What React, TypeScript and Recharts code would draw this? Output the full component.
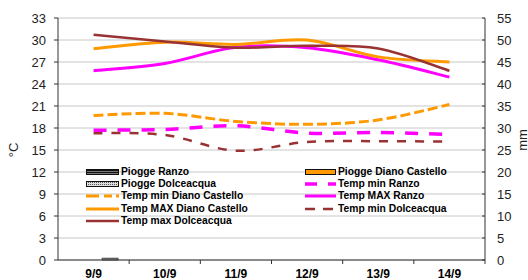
import React from 'react';
import { ComposedChart, Bar, Line, XAxis, YAxis, CartesianGrid, Legend, Label } from 'recharts';

const DAYS = ['9/9', '10/9', '11/9', '12/9', '13/9', '14/9'];
const PIOGGE_RANZO = [0, 0, 0, 0, 0, 0];
const PIOGGE_DIANO = [0, 0, 0, 0, 0, 0];
const PIOGGE_DOLCE = [0.4, 0, 0, 0, 0, 0];
const TMIN_RANZO = [17.7, 17.8, 18.3, 17.3, 17.4, 17.1];
const TMIN_DIANO = [19.7, 20.0, 18.9, 18.5, 19.1, 21.2];
const TMAX_RANZO = [25.8, 26.8, 29.0, 28.95, 27.3, 24.95];
const TMAX_DIANO = [28.8, 29.7, 29.4, 30.0, 27.7, 27.0];
const TMIN_DOLCE = [17.3, 17.05, 14.9, 16.1, 16.2, 16.15];
const TMAX_DOLCE = [30.7, 29.8, 28.95, 29.2, 28.85, 25.8];

const TEMP_TICKS = [0, 3, 6, 9, 12, 15, 18, 21, 24, 27, 30, 33];
const MM_TICKS = [0, 5, 10, 15, 20, 25, 30, 35, 40, 45, 50, 55];

const ORANGE = '#FF9900';
const MAGENTA = '#FF00FF';
const BROWN = '#993333';
const FONT = '"Liberation Sans", Arial, sans-serif';

const W = 528;
const H = 280;
const Y_LEFT_W = 58;
const Y_RIGHT_W = 43;
const BAND = (W - Y_LEFT_W - Y_RIGHT_W) / DAYS.length;

const data = DAYS.map((day, i) => ({
  day,
  pioggeRanzo: PIOGGE_RANZO[i],
  pioggeDiano: PIOGGE_DIANO[i],
  pioggeDolce: PIOGGE_DOLCE[i],
  tMinRanzo: TMIN_RANZO[i],
  tMinDiano: TMIN_DIANO[i],
  tMaxRanzo: TMAX_RANZO[i],
  tMaxDiano: TMAX_DIANO[i],
  tMinDolce: TMIN_DOLCE[i],
  tMaxDolce: TMAX_DOLCE[i],
}));

// legend entries, row by row (two columns)
const LEGEND = [
  { label: 'Piogge Ranzo', kind: 'stripes' },
  { label: 'Piogge Diano Castello', kind: 'orange' },
  { label: 'Piogge Dolceacqua', kind: 'dots' },
  { label: 'Temp min Ranzo', kind: 'line', color: MAGENTA, dash: '12 11', width: 3.5 },
  { label: 'Temp min Diano Castello', kind: 'line', color: ORANGE, dash: '13 5 8 4', width: 3 },
  { label: 'Temp MAX Ranzo', kind: 'line', color: MAGENTA, width: 3 },
  { label: 'Temp MAX Diano Castello', kind: 'line', color: ORANGE, width: 3 },
  { label: 'Temp min Dolceacqua', kind: 'line', color: BROWN, dash: '10 8', width: 2.5 },
  { label: 'Temp max Dolceacqua', kind: 'line', color: BROWN, width: 2.5 },
];

// smoothing like the spreadsheet one (catmull-rom style bezier)
const excelSmooth = (context: any) => {
  let pts: number[][] = [];
  return {
    areaStart() {},
    areaEnd() {},
    lineStart() {
      pts = [];
    },
    point(x: number, y: number) {
      pts.push([+x, +y]);
    },
    lineEnd() {
      if (!pts.length) return;
      context.moveTo(pts[0][0], pts[0][1]);
      for (let i = 0; i < pts.length - 1; i++) {
        const p0 = pts[Math.max(i - 1, 0)];
        const p1 = pts[i];
        const p2 = pts[i + 1];
        const p3 = pts[Math.min(i + 2, pts.length - 1)];
        context.bezierCurveTo(
          p1[0] + (p2[0] - p0[0]) / 6,
          p1[1] + (p2[1] - p0[1]) / 6,
          p2[0] - (p3[0] - p1[0]) / 6,
          p2[1] - (p3[1] - p1[1]) / 6,
          p2[0],
          p2[1]
        );
      }
    },
  };
};

const LegendIcon = ({ item, w }: any) => {
  if (item.kind === 'line') {
    return (
      <svg width={w} height={8} style={{ display: 'block' }}>
        <line x1={0} x2={w} y1={4} y2={4} stroke={item.color} strokeWidth={item.width} strokeDasharray={item.dash} />
      </svg>
    );
  }
  const fill = item.kind === 'orange' ? ORANGE : item.kind === 'stripes' ? 'url(#lg-stripes)' : 'url(#lg-dots)';
  return (
    <svg width={w} height={8} style={{ display: 'block' }}>
      <defs>
        <pattern id="lg-stripes" width={4} height={2} patternUnits="userSpaceOnUse">
          <rect width={4} height={2} fill="#777" />
          <rect width={4} height={1} fill="#111" />
        </pattern>
        <pattern id="lg-dots" width={2} height={2} patternUnits="userSpaceOnUse">
          <rect width={2} height={2} fill="#ddd" />
          <rect width={1} height={1} fill="#555" />
        </pattern>
      </defs>
      <rect x={0.5} y={1.5} width={w - 1} height={5} fill={fill} stroke="#111" />
    </svg>
  );
};

const renderLegend = () => (
  <div
    style={{
      display: 'grid',
      gridTemplateColumns: '219px 200px',
      gridAutoRows: '12.2px',
      fontFamily: FONT,
      fontSize: 10.3,
      fontWeight: 'bold',
      color: '#000',
    }}
  >
    {LEGEND.map((item, index) => (
      <div key={`leg-${index}`} style={{ display: 'flex', alignItems: 'center', whiteSpace: 'nowrap' }}>
        <LegendIcon item={item} w={index % 2 === 0 ? 33 : 31} />
        <span style={{ marginLeft: 2, lineHeight: '12px' }}>{item.label}</span>
      </div>
    ))}
  </div>
);

const DayTick = ({ x, y, payload }: any) => (
  <g>
    <line x1={x + BAND / 2} x2={x + BAND / 2} y1={y - 8} y2={y - 4} stroke="#333" />
    <text x={x} y={y} dy={9.5} textAnchor="middle" fontFamily={FONT} fontSize={12} fontWeight="bold" fill="#000">
      {payload.value}
    </text>
  </g>
);

const MmTick = ({ x, y, payload }: any) => (
  <g>
    <line x1={x - 15} x2={x - 12} y1={y} y2={y} stroke="#333" />
    <text x={x} y={y} dy={4.6} textAnchor="start" fontFamily={FONT} fontSize={13} fill="#222">
      {payload.value}
    </text>
  </g>
);

export default function App() {
  return (
    <div style={{ position: 'absolute', left: 0, top: 0, width: W, height: H, background: '#fff' }}>
      <ComposedChart
        width={W}
        height={H}
        data={data}
        margin={{ top: 18, right: 0, bottom: 0, left: 0 }}
        barCategoryGap="17%"
        barGap={0}
      >
        <defs>
          <pattern id="stripes" width={4} height={2} patternUnits="userSpaceOnUse">
            <rect width={4} height={2} fill="#777" />
            <rect width={4} height={1} fill="#111" />
          </pattern>
          <pattern id="dots" width={2} height={2} patternUnits="userSpaceOnUse">
            <rect width={2} height={2} fill="#bbb" />
            <rect width={1} height={1} fill="#555" />
          </pattern>
        </defs>
        <CartesianGrid yAxisId="t" vertical={false} stroke="#c8c8c8" />
        <XAxis
          dataKey="day"
          height={20}
          axisLine={{ stroke: '#333' }}
          tickLine={false}
          tickSize={4}
          tickMargin={4}
          tick={<DayTick />}
          interval={0}
        />
        <YAxis
          yAxisId="t"
          width={Y_LEFT_W}
          domain={[0, 33]}
          ticks={TEMP_TICKS}
          interval={0}
          axisLine={{ stroke: '#333' }}
          tickLine={{ stroke: '#333' }}
          tickSize={4}
          tickMargin={8}
          tick={{ fill: '#222', fontSize: 13, fontFamily: FONT }}
        >
          <Label
            content={() => (
              <text x={13} y={150} transform="rotate(-90 13 150)" textAnchor="middle" dominantBaseline="central" fontFamily={FONT} fontSize={13} fill="#222">
                °C
              </text>
            )}
          />
        </YAxis>
        <YAxis
          yAxisId="mm"
          orientation="right"
          width={Y_RIGHT_W}
          domain={[0, 55]}
          ticks={MM_TICKS}
          interval={0}
          axisLine={{ stroke: '#333' }}
          tickLine={false}
          tickSize={4}
          tickMargin={8}
          tick={<MmTick />}
        >
          <Label
            content={() => (
              <text x={522} y={140} transform="rotate(-90 522 140)" textAnchor="middle" dominantBaseline="central" fontFamily={FONT} fontSize={13} fill="#222">
                mm
              </text>
            )}
          />
        </YAxis>

        <Bar yAxisId="mm" dataKey="pioggeRanzo" name="Piogge Ranzo" fill="url(#stripes)" stroke="#111" isAnimationActive={false} />
        <Bar yAxisId="mm" dataKey="pioggeDiano" name="Piogge Diano Castello" fill={ORANGE} stroke="#111" isAnimationActive={false} />
        <Bar yAxisId="mm" dataKey="pioggeDolce" name="Piogge Dolceacqua" fill="url(#dots)" stroke="#444" isAnimationActive={false} />

        <Line yAxisId="t" type={excelSmooth as any} dataKey="tMinRanzo" name="Temp min Ranzo" stroke={MAGENTA} strokeWidth={3.5} strokeDasharray="13 11" dot={false} isAnimationActive={false} />
        <Line yAxisId="t" type={excelSmooth as any} dataKey="tMinDiano" name="Temp min Diano Castello" stroke={ORANGE} strokeWidth={3} strokeDasharray="10 4" dot={false} isAnimationActive={false} />
        <Line yAxisId="t" type={excelSmooth as any} dataKey="tMaxRanzo" name="Temp MAX Ranzo" stroke={MAGENTA} strokeWidth={3} dot={false} isAnimationActive={false} />
        <Line yAxisId="t" type={excelSmooth as any} dataKey="tMaxDiano" name="Temp MAX Diano Castello" stroke={ORANGE} strokeWidth={3} dot={false} isAnimationActive={false} />
        <Line yAxisId="t" type={excelSmooth as any} dataKey="tMinDolce" name="Temp min Dolceacqua" stroke={BROWN} strokeWidth={2.5} strokeDasharray="9 9" dot={false} isAnimationActive={false} />
        <Line yAxisId="t" type={excelSmooth as any} dataKey="tMaxDolce" name="Temp max Dolceacqua" stroke={BROWN} strokeWidth={2.5} dot={false} isAnimationActive={false} />

        <Legend
          content={renderLegend}
          layout="horizontal"
          verticalAlign="middle"
          wrapperStyle={{ position: 'absolute', left: 86, top: 166, width: 420, height: 62 }}
        />
      </ComposedChart>
    </div>
  );
}
